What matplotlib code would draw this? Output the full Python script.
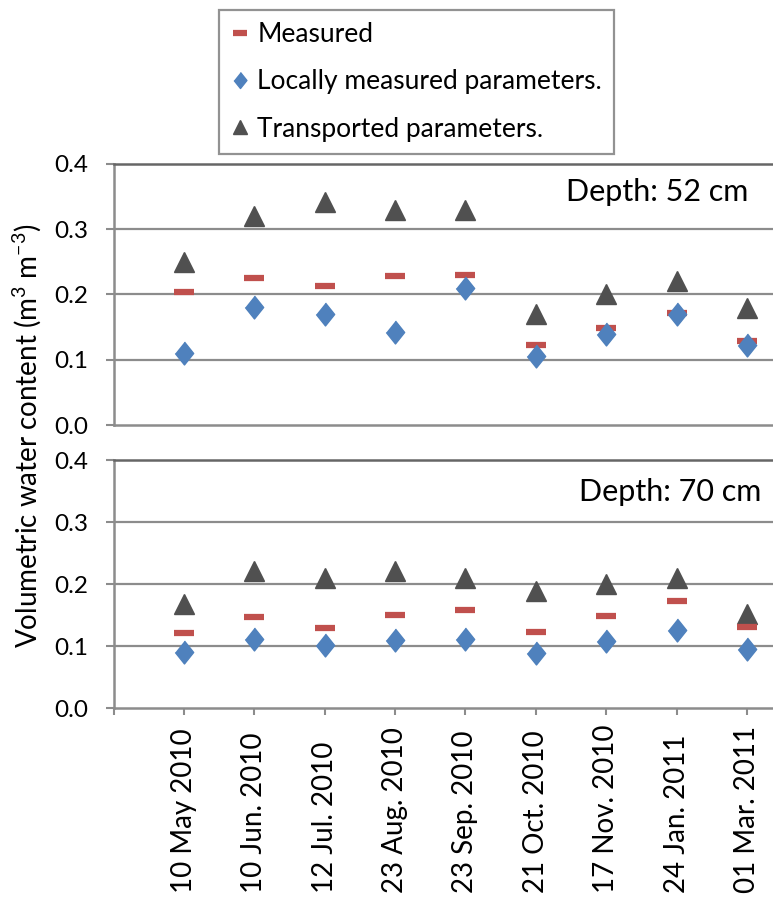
import numpy as np
import matplotlib.pyplot as plt
import matplotlib.transforms as mtransforms

plt.rcParams['font.family'] = ['Lato', 'DejaVu Sans']
plt.rcParams['mathtext.fontset'] = 'custom'
plt.rcParams['mathtext.rm'] = 'Lato'

dates = ['10 May 2010', '10 Jun. 2010', '12 Jul. 2010', '23 Aug. 2010',
         '23 Sep. 2010', '21 Oct. 2010', '17 Nov. 2010', '24 Jan. 2011',
         '01 Mar. 2011']

# depth 52 cm
measured_52 = [0.204, 0.225, 0.213, 0.228, 0.230, 0.123, 0.149, 0.171, 0.129]
local_52 = [0.110, 0.181, 0.170, 0.142, 0.210, 0.105, 0.140, 0.170, 0.122]
transp_52 = [0.250, 0.320, 0.341, 0.330, 0.330, 0.170, 0.200, 0.221, 0.180]

# depth 70 cm
measured_70 = [0.121, 0.147, 0.129, 0.150, 0.158, 0.123, 0.149, 0.172, 0.130]
local_70 = [0.090, 0.111, 0.101, 0.110, 0.111, 0.088, 0.108, 0.126, 0.095]
transp_70 = [0.168, 0.221, 0.210, 0.221, 0.210, 0.189, 0.200, 0.210, 0.151]

RED = '#C0504D'
BLUE = '#4F81BD'
DARK = '#505050'
GRID = '#8C8C8C'

W, H = 773, 897
fig = plt.figure(figsize=(W / 100, H / 100), dpi=100)

x = np.arange(len(dates))
diamond = [(0, 1), (0.8, 0), (0, -1), (-0.8, 0)]


def panel(rect, meas, loc, tr, label, label_pos):
    ax = fig.add_axes(rect)
    ax.plot(x, tr, ls='none', marker='^', ms=15, color=DARK, zorder=3,
            label='Transported parameters.')
    ax.plot(x, meas, ls='none', marker='_', ms=14, mew=4.5, color=RED,
            zorder=4, label='Measured')
    ax.plot(x, loc, ls='none', marker=diamond, ms=16.5, color=BLUE, zorder=5,
            label='Locally measured parameters.')
    ax.set_xlim(-1, 8.37)
    ax.set_ylim(0, 0.4)
    ax.set_yticks([0.0, 0.1, 0.2, 0.3, 0.4])
    ax.set_yticklabels(['0.0', '0.1', '0.2', '0.3', '0.4'])
    for v in [0.1, 0.2, 0.3]:
        ax.axhline(v, color=GRID, lw=1.6, zorder=1)
    ax.spines['right'].set_visible(False)
    ax.spines['top'].set_color('#666666')
    ax.spines['top'].set_linewidth(1.8)
    for s in ['bottom', 'left']:
        ax.spines[s].set_color(GRID)
        ax.spines[s].set_linewidth(1.8)
    ax.tick_params(axis='y', length=6, width=1.5, color=GRID, pad=12,
                   labelsize=17.5)
    ax.text(label_pos[0], label_pos[1], label, transform=ax.transAxes,
            ha='right', va='center', fontsize=22)
    return ax


top = panel([113.5 / W, 1 - 425 / H, 1 - 113.5 / W, (425 - 164) / H],
            measured_52, local_52, transp_52, 'Depth: 52 cm', (0.962, 0.893))
bot = panel([113.5 / W, 1 - 708 / H, 1 - 113.5 / W, (708 - 460) / H],
            measured_70, local_70, transp_70, 'Depth: 70 cm', (0.983, 0.87))

top.set_xticks([])
bot.set_xticks(np.arange(-1, len(dates)))
bot.set_xticklabels([])
bot.tick_params(axis='x', length=5, width=1.5, color=GRID, direction='out')

# date labels read upward from the bottom edge
trans = mtransforms.blended_transform_factory(bot.transData, fig.transFigure)
for xi, d in zip(x, dates):
    bot.text(xi, 1 - 893 / H, d, transform=trans, rotation=90, ha='center',
             va='bottom', fontsize=20, clip_on=False)

fig.text(27 / W, 1 - 436 / H, 'Volumetric water content (m$^3$ m$^{-3}$)',
         rotation=90, ha='center', va='center', fontsize=20)

handles, labels = top.get_legend_handles_labels()
order = [1, 2, 0]
leg = fig.legend([handles[i] for i in order], [labels[i] for i in order],
                 loc='upper left', bbox_to_anchor=(219 / W, 1 - 10 / H),
                 frameon=True, fancybox=False, fontsize=19, markerscale=0.7,
                 handlelength=0.7, handletextpad=0.3, labelspacing=0.85,
                 borderpad=0.45, borderaxespad=0)
leg.get_frame().set_edgecolor('#777777')
leg.get_frame().set_linewidth(1.6)

fig.savefig('out.png', dpi=100)
